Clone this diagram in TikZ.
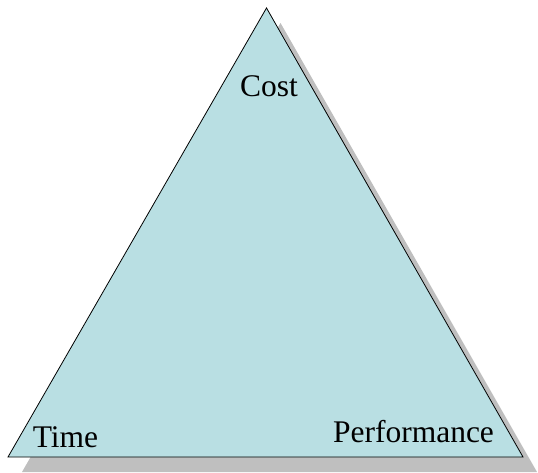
\documentclass[tikz,border=0pt]{standalone}
\usepackage{fontspec}
\setmainfont{Liberation Serif}
\usepackage{xcolor}
\usetikzlibrary{positioning}
\definecolor{trifill}{HTML}{B9DFE3}
\definecolor{trishadow}{HTML}{BFBFBF}
\tikzset{
  corner/.style={anchor=base,inner sep=0pt,font=\fontsize{31.5}{38}\selectfont}
}

\begin{document}
\begin{tikzpicture}[x=1pt,y=-1pt]
    \useasboundingbox (0,0) rectangle (538,473);

    % Corners
    \coordinate (top) at (266.5,8);
    \coordinate (left) at (8,457);
    \coordinate (right) at (523,457);

    % Shadow
    \fill[trishadow] ([shift={(14,15)}]top) -- ([shift={(14,15)}]left) -- ([shift={(14,15)}]right) -- cycle;

    % Triangle
    \draw[fill=trifill,line width=0.8pt] (top) -- (left) -- (right) -- cycle;

    % Labels
    \node[corner] (cost) at (269,97) {Cost};
    \node[corner] (time) at (65.5,447) {Time};
    \node[corner] (perf) at (413.5,442) {Performance};
\end{tikzpicture}
\end{document}
